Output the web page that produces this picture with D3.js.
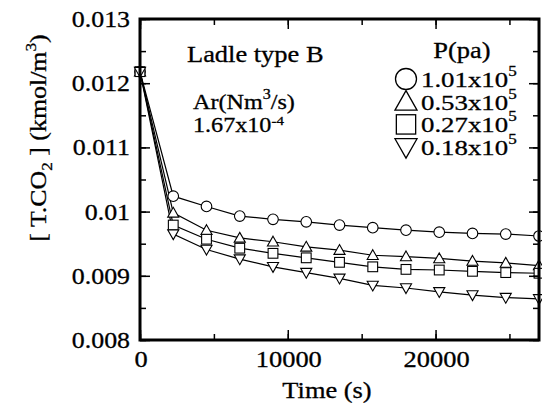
<!DOCTYPE html>
<html>
<head>
<meta charset="utf-8">
<script src="https://cdn.jsdelivr.net/npm/d3@7"></script>
<style>
  body { margin: 0; background: #fff; }
  text { font-family: "Liberation Serif", "Times New Roman", serif; fill: #000; stroke: #000; stroke-width: 0.3px; }
</style>
</head>
<body>
<div id="chart"></div>
<script>
const times = [0, 2250, 4500, 6750, 9000, 11250, 13500, 15750, 18000, 20250, 22500, 24750, 27000];
const p101 = [0.01218, 0.01024, 0.01008, 0.00993, 0.00988, 0.00984, 0.00979, 0.00975, 0.00971, 0.00968, 0.00966, 0.00965, 0.00962];
const p053 = [0.01218, 0.00998, 0.00971, 0.00959, 0.00953, 0.00945, 0.00940, 0.00932, 0.00930, 0.00927, 0.00923, 0.00920, 0.00916];
const p027 = [0.01218, 0.00979, 0.00957, 0.00943, 0.00935, 0.00928, 0.00921, 0.00914, 0.00910, 0.00909, 0.00907, 0.00905, 0.00904];
const p018 = [0.01218, 0.00965, 0.00941, 0.00926, 0.00914, 0.00905, 0.00896, 0.00885, 0.00881, 0.00875, 0.00870, 0.00866, 0.00864];
const seriesNames = ["1.01x10", "0.53x10", "0.27x10", "0.18x10"];
const yTicks = [0.008, 0.009, 0.01, 0.011, 0.012, 0.013];
const xTicks = [0, 10000, 20000];

const W = 542, H = 406;
const margin = { top: 19, right: 3, bottom: 66, left: 140 };
const SX = 1.15; // the scanned lettering is a bit wider than it is tall

const svg = d3.select("#chart").append("svg")
  .attr("width", W)
  .attr("height", H);

const x = d3.scaleLinear().domain([0, 27000]).range([margin.left, W - margin.right]);
const y = d3.scaleLinear().domain([0.008, 0.013]).range([H - margin.bottom, margin.top]);

const series = [
  { name: seriesNames[0], values: p101, shape: "circle" },
  { name: seriesNames[1], values: p053, shape: "up" },
  { name: seriesNames[2], values: p027, shape: "square" },
  { name: seriesNames[3], values: p018, shape: "down" }
];

// text placed at (tx,ty), stretched horizontally
function label(tx, ty, size, anchor, rot, sx) {
  return svg.append("text")
    .attr("transform", `translate(${tx},${ty})${rot ? " rotate(" + rot + ")" : ""} scale(${sx || SX},1)`)
    .attr("text-anchor", anchor || "start")
    .attr("font-size", size + "px");
}

function marker(g, shape, cx, cy, r, sw) {
  if (shape === "circle") {
    g.append("circle").attr("cx", cx).attr("cy", cy).attr("r", r)
      .attr("fill", "#fff").attr("stroke", "#000").attr("stroke-width", sw);
  } else if (shape === "square") {
    const h = r * 0.92;
    g.append("rect").attr("x", cx - h).attr("y", cy - h).attr("width", 2 * h).attr("height", 2 * h)
      .attr("fill", "#fff").attr("stroke", "#000").attr("stroke-width", sw);
  } else {
    const s = shape === "up" ? 1 : -1;
    const pts = [[cx, cy - 1.05 * r * s], [cx + 1.05 * r, cy + 0.8 * r * s], [cx - 1.05 * r, cy + 0.8 * r * s]];
    g.append("path").attr("d", "M" + pts.join("L") + "Z")
      .attr("fill", "#fff").attr("stroke", "#000").attr("stroke-width", sw);
  }
}

const plot = svg.append("g");
const line = d3.line().x((d, i) => x(times[i])).y(d => y(d));

series.forEach(s => {
  plot.append("path")
    .datum(s.values)
    .attr("fill", "none")
    .attr("stroke", "#000")
    .attr("stroke-width", 1.2)
    .attr("d", line);
});
series.forEach(s => {
  s.values.forEach((v, i) => marker(plot, s.shape, x(times[i]), y(v), 5.3, 1.1));
});

// inward ticks on all four sides
const yMinor = d3.range(0.008, 0.01301, 0.0005);
const xMinor = d3.range(0, 27001, 5000);

function ticks(axis, pos, vals, size) {
  svg.append("g")
    .attr("transform", pos)
    .call(axis.tickValues(vals).tickSize(size).tickFormat(""))
    .call(g => g.select(".domain").remove());
}
ticks(d3.axisRight(y), `translate(${margin.left},0)`, yMinor, 6);
ticks(d3.axisRight(y), `translate(${margin.left},0)`, yTicks, 10);
ticks(d3.axisLeft(y), `translate(${W - margin.right},0)`, yMinor, 6);
ticks(d3.axisLeft(y), `translate(${W - margin.right},0)`, yTicks, 10);
ticks(d3.axisTop(x), `translate(0,${H - margin.bottom})`, xMinor, 6);
ticks(d3.axisTop(x), `translate(0,${H - margin.bottom})`, xTicks, 10);
ticks(d3.axisBottom(x), `translate(0,${margin.top})`, xMinor, 6);
ticks(d3.axisBottom(x), `translate(0,${margin.top})`, xTicks, 10);
svg.selectAll(".tick line").attr("stroke", "#000").attr("stroke-width", 1.5);

// frame
svg.append("rect")
  .attr("x", margin.left)
  .attr("y", margin.top)
  .attr("width", W - margin.right - margin.left)
  .attr("height", H - margin.bottom - margin.top)
  .attr("fill", "none")
  .attr("stroke", "#000")
  .attr("stroke-width", 3);

// tick labels
yTicks.forEach(d => {
  label(margin.left - 10, y(d) + 8, 22.5, "end")
    .text(d === 0.01 ? "0.01" : d3.format(".3f")(d));
});
xTicks.forEach(d => {
  label(x(d) + 1, H - margin.bottom + 27, 23, "middle").text(d);
});

// axis titles
label(327, 398, 23, "middle").text("Time (s)");

const yt = label(46, 138, 22.5, "middle", -90);
yt.append("tspan").text("[ T.CO");
yt.append("tspan").attr("font-size", "15px").attr("dy", 6).text("2");
yt.append("tspan").attr("dy", -6).text(" ]  (kmol/m");
yt.append("tspan").attr("font-size", "15px").attr("dy", -10).text("3");
yt.append("tspan").attr("dy", 10).text(")");

// annotations
label(187, 62, 23, "start").text("Ladle type B");
const ar = label(193, 109, 21, "start");
ar.append("tspan").text("Ar(Nm");
ar.append("tspan").attr("font-size", "14px").attr("dy", -10).text("3");
ar.append("tspan").attr("dy", 10).text("/s)");
const ar2 = label(193, 132, 21, "start");
ar2.append("tspan").text("1.67x10");
ar2.append("tspan").attr("font-size", "13px").attr("dy", -7).text("-4");

// legend
label(462, 58, 23, "middle").text("P(pa)");
series.forEach((s, i) => {
  const cy = 79 + i * 22.7;
  marker(svg, s.shape, 406, cy, 10.5, 1.3);
  const t = label(421, cy + 8, 22, "start", 0, 1.22);
  t.append("tspan").text(s.name);
  t.append("tspan").attr("font-size", "14px").attr("dy", -11).text("5");
});
</script>
</body>
</html>
